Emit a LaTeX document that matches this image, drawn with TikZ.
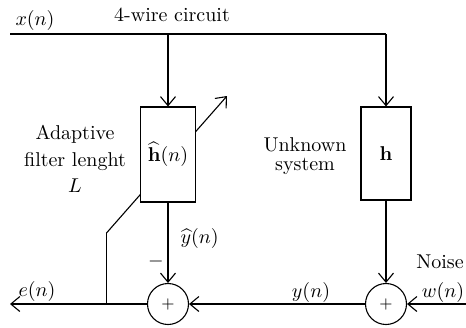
\documentclass[tikz,border=0pt]{standalone}
\usetikzlibrary{arrows.meta}
\begin{document}
\begin{tikzpicture}[x=0.5pt,y=-0.5pt, line width=0.55pt,
 arr/.style={-{Straight Barb[length=4.5pt,width=7.5pt]}},
 blk/.style={draw, fill=white, minimum height=47.5pt, inner sep=0pt},
 sumnode/.style={draw, fill=white, circle, minimum size=20.5pt, inner sep=0pt, font=\footnotesize},
 lbl/.style={inner sep=0pt}]
\useasboundingbox (0,0) rectangle (466,327);
% adaptation arrow (behind the box)
\coordinate (kink) at (106.5,233);
\coordinate (adtip) at (227,96);
\coordinate (junc) at (106.5,304);
\draw[arr] (kink) -- (adtip);
% blocks
\node[blk, minimum width=27.5pt] (hhat) at (168,154.5) {$\widehat{\mathbf{h}}(n)$};
\node[blk, minimum width=25pt, minimum height=46.5pt] (h) at (386,153.5) {$\mathbf{h}$};
\node[sumnode] (s1) at (168,304) {$+$};
\node[sumnode] (s2) at (386,304) {$+$};
% coordinates
\coordinate (xin) at (10,34);
\coordinate (tap) at (168,34);
\coordinate (corner) at (386,34);
\coordinate (eout) at (10,304);
\coordinate (win) at (466,304);
% connectors
\draw (xin) -- (corner);
\draw[arr] (corner) -- (h.north);
\draw[arr] (tap) -- (hhat.north);
\draw[arr] (hhat.south) -- (s1.north);
\draw[arr] (h.south) -- (s2.north);
\draw[arr] (win) -- (s2.east);
\draw[arr] (s2.west) -- (s1.east);
\draw[arr] (s1.west) -- (eout);
\draw (kink) -- (junc);
% labels
\node[lbl] (lx) at (35,20) {$x(n)$};
\node[lbl] (lw4) at (172,15) {4-wire circuit};
\node[lbl, anchor=base] (la1) at (75,139) {Adaptive};
\node[lbl, anchor=base] (la2) at (75,166.7) {filter lenght};
\node[lbl, anchor=base] (la3) at (75,192.7) {$L$};
\node[lbl, anchor=base] (lu1) at (305,151) {Unknown};
\node[lbl, anchor=base] (lu2) at (305,170) {system};
\node[lbl, anchor=west] (lyh) at (180,238) {$\widehat{y}(n)$};
\node[lbl] (lm) at (156,261) {$-$};
\node[lbl] (le) at (37,291) {$e(n)$};
\node[lbl] (ly) at (311,292) {$y(n)$};
\node[lbl] (lwn) at (443,292) {$w(n)$};
\node[lbl] (lno) at (440,262) {Noise};
\end{tikzpicture}
\end{document}
